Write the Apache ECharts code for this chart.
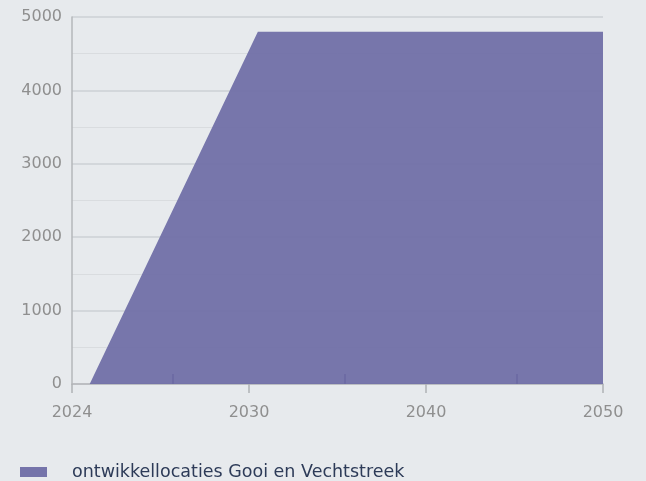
<!DOCTYPE html>
<html>
<head>
<meta charset="utf-8">
<script src="https://cdn.jsdelivr.net/npm/echarts@6/dist/echarts.min.js"></script>
<style>
html,body{margin:0;padding:0;background:#e7eaed;}
#c{width:646px;height:481px;}
</style>
</head>
<body>
<div id="c"></div>
<script>
// Data
const seriesName = 'ontwikkellocaties Gooi en Vechtstreek';
const years = [2024, 2024.6, 2030.5, 2050];
const values = [0, 0, 4800, 4800];
// x-axis labels (the axis is not linear in years: labels are evenly spaced)
const xTickYears = [2024, 2030, 2040, 2050];
const xTickLabels = ['2024', '2030', '2040', '2050'];
const xMinorTickPos = [1.14, 3.08, 5.03];

// map a year to the evenly spaced axis position of the labelled ticks
function yearToPos(y) {
  for (let i = 0; i < xTickYears.length - 1; i++) {
    const a = xTickYears[i], b = xTickYears[i + 1];
    if (y <= b) return 2 * i + 2 * (y - a) / (b - a);
  }
  return 2 * (xTickYears.length - 1);
}
const tickPos = xTickYears.map(yearToPos);
const points = years.map((y, i) => [yearToPos(y), values[i]]);

const chart = echarts.init(document.getElementById('c'));
const labelFont = { fontFamily: 'DejaVu Sans', fontSize: 16, color: '#8f8f8f' };
chart.setOption({
  backgroundColor: '#e7eaed',
  animation: false,
  grid: { left: 72, right: 43, top: 17, bottom: 97, containLabel: false },
  legend: {
    left: 15, top: 458,
    itemWidth: 27, itemHeight: 10,
    icon: 'rect',
    textStyle: { fontFamily: 'DejaVu Sans', fontSize: 17.5, color: '#2d3b58', padding: [0, 0, 0, 20] },
    data: [seriesName]
  },
  xAxis: [{
    type: 'value', min: 0, max: 6,
    axisLine: { show: true, lineStyle: { color: '#b5b7ba', width: 1.5 } },
    axisTick: { show: true, inside: false, length: 9, customValues: tickPos, lineStyle: { color: '#b0b2b5', width: 1.5 } },
    axisLabel: {
      ...labelFont, margin: 21,
      customValues: tickPos,
      formatter: v => { const i = tickPos.findIndex(p => Math.abs(p - v) < 1e-6); return i >= 0 ? xTickLabels[i] : ''; }
    },
    splitLine: { show: false }
  }, {
    type: 'value', min: 0, max: 6, position: 'bottom',
    axisLine: { show: false },
    axisTick: { show: true, inside: true, length: 10, customValues: xMinorTickPos, lineStyle: { color: '#403e74', width: 2 } },
    axisLabel: { show: false },
    splitLine: { show: false }
  }],
  yAxis: {
    type: 'value', min: 0, max: 5000, interval: 1000,
    axisLine: { show: true, lineStyle: { color: '#b5b7ba', width: 1.5 } },
    axisTick: { show: false },
    axisLabel: { ...labelFont, margin: 10, formatter: v => String(v) },
    splitLine: { show: true, lineStyle: { color: '#cdd0d4', width: 1.5 } },
    minorTick: { show: false, splitNumber: 2 },
    minorSplitLine: { show: true, lineStyle: { color: '#d9dcdf', width: 1 } }
  },
  series: [{
    name: seriesName,
    type: 'line',
    xAxisIndex: 0,
    data: points,
    symbol: 'none',
    lineStyle: { width: 0 },
    itemStyle: { color: '#7574aa' },
    areaStyle: { color: '#706fa7', opacity: 0.94 },
    z: 2
  }]
});
</script>
</body>
</html>
